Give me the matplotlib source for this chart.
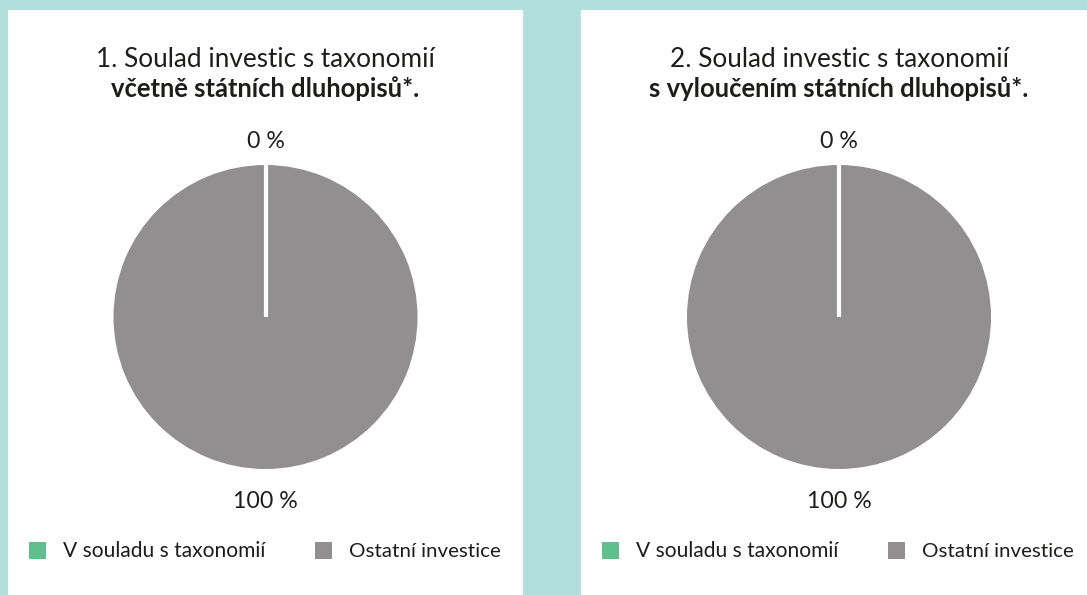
import numpy as np
import matplotlib.pyplot as plt
from matplotlib.patches import Rectangle

plt.rcParams['font.family'] = ['Lato', 'DejaVu Sans']

# data
labels = ['V souladu s taxonomií', 'Ostatní investice']
incl_bonds = [0, 100]
excl_bonds = [0, 100]
title_a = ['1. Soulad investic s taxonomií', '2. Soulad investic s taxonomií']
title_b = ['včetně státních dluhopisů*.', 's vyloučením státních dluhopisů*.']
colors = ['#5fc08e', '#918f90']
txt = '#1d1d1b'

W, H = 1087, 595
fig = plt.figure(figsize=(W / 100, H / 100), dpi=100, facecolor='#b2dfdc')
renderer = fig.canvas.get_renderer()


def fx(x):
    return x / W


def fy(y):
    return 1 - y / H


def fit(t, width):
    # scale font so the text is about `width` pixels wide
    w = t.get_window_extent(renderer).width
    t.set_fontsize(t.get_fontsize() * width / w)


# white panels
for x0, x1 in [(8, 523), (581, 1087)]:
    fig.patches.append(Rectangle((fx(x0), 0), fx(x1) - fx(x0), fy(10),
                                 transform=fig.transFigure, facecolor='white',
                                 edgecolor='none', zorder=-5))

r = 152
title_fs = None
for i, (vals, cx, lx) in enumerate([(incl_bonds, 265.5, 29), (excl_bonds, 839, 602)]):
    ax = fig.add_axes([fx(cx - r), fy(317 + r), r / W * 2, r / H * 2])
    wedges, _ = ax.pie(vals, colors=colors, startangle=90, counterclock=False,
                       radius=1, wedgeprops=dict(linewidth=0))
    # white boundary where the slices start
    ang = np.deg2rad(90 - 360 * vals[0] / sum(vals))
    ax.plot([0, np.cos(ang)], [0, np.sin(ang)], color='white', lw=3,
            solid_capstyle='butt')
    ax.set_xlim(-1, 1)
    ax.set_ylim(-1, 1)
    ax.axis('off')

    t1 = fig.text(fx(cx), fy(67), title_a[i], ha='center', va='baseline',
                  fontsize=14, color=txt)
    t2 = fig.text(fx(cx), fy(97), title_b[i], ha='center', va='baseline',
                  fontsize=14, color=txt, fontweight='bold')
    if title_fs is None:
        fit(t1, 340)
        fit(t2, 312)
        title_fs = (t1.get_fontsize(), t2.get_fontsize())
    else:
        t1.set_fontsize(title_fs[0])
        t2.set_fontsize(title_fs[1])

    p0 = fig.text(fx(cx), fy(148), f'{vals[0]} %', ha='center', va='baseline',
                  fontsize=14, color=txt)
    fit(p0, 38)
    p1 = fig.text(fx(cx), fy(508), f'{vals[1]} %', ha='center', va='baseline',
                  fontsize=14, color=txt)
    fit(p1, 65)

    # legend
    for k, (lab, c) in enumerate(zip(labels, colors)):
        mx = lx + 286 * k
        fig.patches.append(Rectangle((fx(mx), fy(559)), 17 / W, 17 / H,
                                     transform=fig.transFigure, facecolor=c,
                                     edgecolor='none'))
        lt = fig.text(fx(mx + 34), fy(557), lab, ha='left', va='baseline',
                      fontsize=14, color=txt)
        fit(lt, 204 if k == 0 else 151)

fig.savefig('out.png', dpi=100, facecolor=fig.get_facecolor())
